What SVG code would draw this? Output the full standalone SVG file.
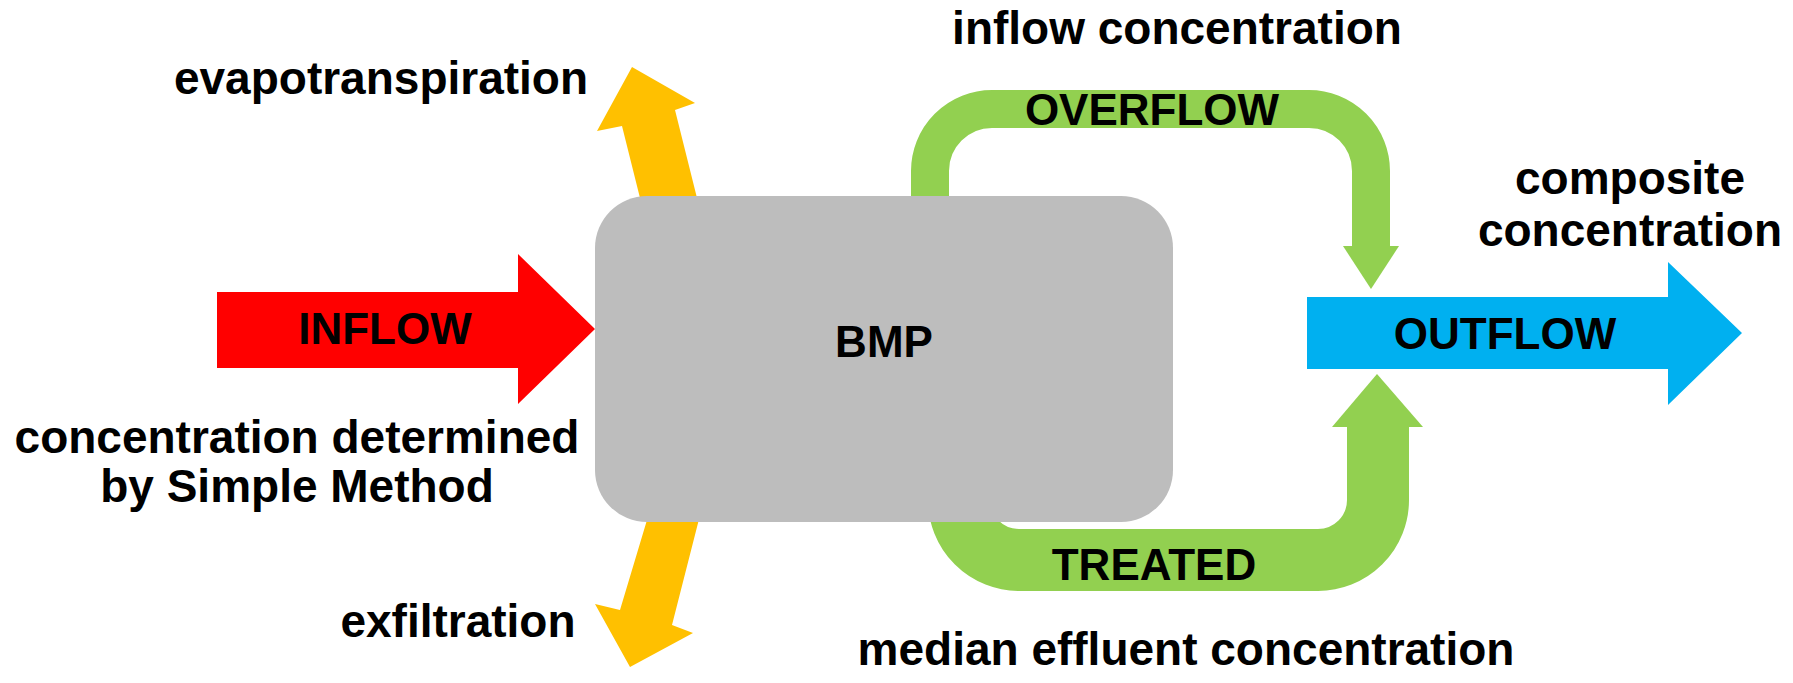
<svg xmlns="http://www.w3.org/2000/svg" width="1793" height="683" viewBox="0 0 1793 683">
<style>
  text { font-family: "Liberation Sans", Arial, sans-serif; font-weight: bold; fill: #000; text-anchor: middle; }
  .lbl { font-size: 46px; }
  .in { font-size: 44px; }
  .green { fill: none; stroke: #92D050; }
  .greenfill { fill: #92D050; }
  .orange { fill: #FFC000; }
</style>
<rect width="1793" height="683" fill="#fff"/>
<g id="connectors">
  <g id="evapotranspiration-arrow">
    <polygon class="orange" points="648,230 622,126 597,131 632,67 695,103 675,110 705,230"/>
  </g>
  <g id="exfiltration-arrow">
    <polygon class="orange" points="659,480 620,610 595,604 630,667 693,633 672,625 709,480"/>
  </g>
  <g id="overflow-arrow">
    <path class="green" stroke-width="38" d="M930 240 V171 A62 62 0 0 1 992 109 H1309 A62 62 0 0 1 1371 171 V248"/>
    <polygon class="greenfill" points="1343,246 1399,246 1371,289"/>
  </g>
  <g id="treated-arrow">
    <path class="green" stroke-width="62" d="M959 440 V500 A60 60 0 0 0 1019 560 H1318 A60 60 0 0 0 1378 500 V425"/>
    <polygon class="greenfill" points="1332,427 1423,427 1377,374"/>
  </g>
</g>
<g id="inflow">
  <polygon fill="#FF0000" points="217,292 518,292 518,254 595,329 518,404 518,368 217,368"/>
  <text class="in" x="385" y="344">INFLOW</text>
</g>
<g id="bmp">
  <rect x="595" y="196" width="578" height="326" rx="52" ry="52" fill="#BDBDBD"/>
  <text class="in" x="884" y="357">BMP</text>
</g>
<g id="outflow">
  <polygon fill="#00B0F0" points="1307,297 1668,297 1668,262 1742,333 1668,405 1668,369 1307,369"/>
  <text class="in" x="1505" y="349">OUTFLOW</text>
</g>
<g id="labels">
  <text class="in" x="1152" y="125">OVERFLOW</text>
  <text class="in" x="1154" y="580">TREATED</text>
  <text class="lbl" x="381" y="94">evapotranspiration</text>
  <text class="lbl" x="1177" y="44">inflow concentration</text>
  <text class="lbl" x="1630" y="194">composite</text>
  <text class="lbl" x="1630" y="246">concentration</text>
  <text class="lbl" x="297" y="453">concentration determined</text>
  <text class="lbl" x="297" y="502">by Simple Method</text>
  <text class="lbl" x="458" y="637">exfiltration</text>
  <text class="lbl" x="1186" y="665">median effluent concentration</text>
</g>
</svg>
